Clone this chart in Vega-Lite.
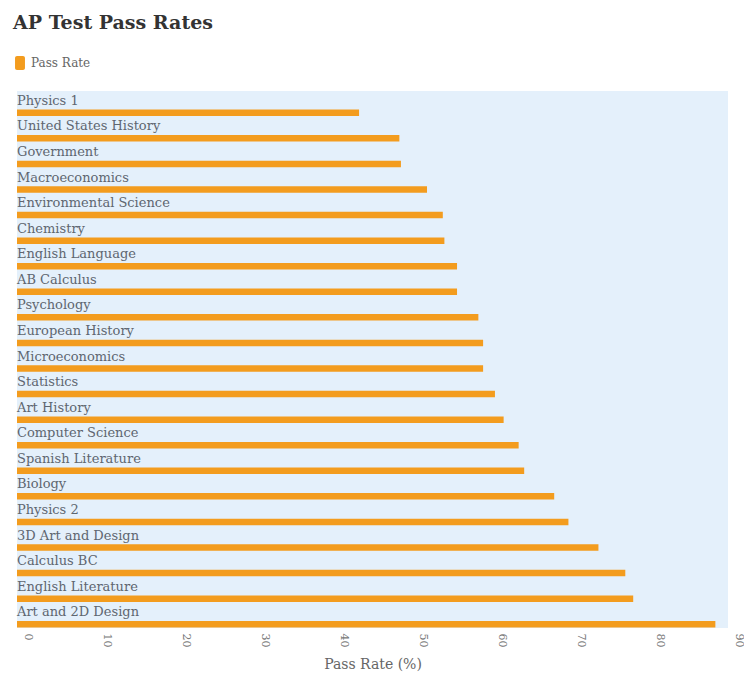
{
  "$schema": "https://vega.github.io/schema/vega-lite/v6.json",
  "autosize": "none",
  "width": 711,
  "height": 537,
  "padding": {"left": 17, "top": 91, "right": 16, "bottom": 52},
  "background": "white",
  "title": {
    "text": "AP Test Pass Rates",
    "anchor": "start",
    "frame": "group",
    "font": "DejaVu Serif",
    "fontSize": 19,
    "fontWeight": "bold",
    "color": "#333333",
    "dx": -4,
    "offset": 22
  },
  "data": {
    "values": [
      {"subject": "Physics 1", "rate": 43.3},
      {"subject": "United States History", "rate": 48.4},
      {"subject": "Government", "rate": 48.6},
      {"subject": "Macroeconomics", "rate": 51.9},
      {"subject": "Environmental Science", "rate": 53.9},
      {"subject": "Chemistry", "rate": 54.1},
      {"subject": "English Language", "rate": 55.7},
      {"subject": "AB Calculus", "rate": 55.7},
      {"subject": "Psychology", "rate": 58.4},
      {"subject": "European History", "rate": 59.0},
      {"subject": "Microeconomics", "rate": 59.0},
      {"subject": "Statistics", "rate": 60.5},
      {"subject": "Art History", "rate": 61.6},
      {"subject": "Computer Science", "rate": 63.5},
      {"subject": "Spanish Literature", "rate": 64.2},
      {"subject": "Biology", "rate": 68.0},
      {"subject": "Physics 2", "rate": 69.8},
      {"subject": "3D Art and Design", "rate": 73.6},
      {"subject": "Calculus BC", "rate": 77.0},
      {"subject": "English Literature", "rate": 78.0},
      {"subject": "Art and 2D Design", "rate": 88.4}
    ]
  },
  "encoding": {
    "y": {
      "field": "subject",
      "type": "nominal",
      "sort": null,
      "scale": {"paddingInner": 0, "paddingOuter": 0},
      "axis": null
    }
  },
  "layer": [
    {
      "mark": {"type": "bar", "height": 6.5, "yOffset": 9},
      "encoding": {
        "x": {
          "field": "rate",
          "type": "quantitative",
          "scale": {"domain": [0, 90], "nice": false},
          "axis": {
            "title": "Pass Rate (%)",
            "values": [0, 10, 20, 30, 40, 50, 60, 70, 80, 90],
            "labelAngle": 90,
            "labelOffset": 10,
            "labelPadding": 5,
            "labelFont": "DejaVu Serif",
            "labelFontSize": 11,
            "labelColor": "#777777",
            "titleFont": "DejaVu Serif",
            "titleFontSize": 14,
            "titleFontWeight": "normal",
            "titleColor": "#666666",
            "titlePadding": 11,
            "domain": false,
            "ticks": false,
            "grid": false
          }
        },
        "color": {
          "datum": "Pass Rate",
          "type": "nominal",
          "scale": {"range": ["#f39c1e"]},
          "legend": {
            "title": null,
            "orient": "none",
            "legendX": -5,
            "legendY": -36,
            "symbolType": "M-0.43,-1H0.43A0.28,0.28 0 0 1 0.71,-0.72V0.72A0.28,0.28 0 0 1 0.43,1H-0.43A0.28,0.28 0 0 1 -0.71,0.72V-0.72A0.28,0.28 0 0 1 -0.43,-1Z",
            "symbolSize": 196,
            "symbolOpacity": 1,
            "labelFont": "DejaVu Serif",
            "labelFontSize": 12,
            "labelColor": "#666666",
            "labelOffset": 3
          }
        }
      }
    },
    {
      "mark": {
        "type": "text",
        "align": "left",
        "baseline": "alphabetic",
        "dy": 1,
        "font": "DejaVu Serif",
        "fontSize": 13,
        "color": "#5e6670"
      },
      "encoding": {
        "x": {"datum": 0, "type": "quantitative"},
        "text": {"field": "subject"}
      }
    }
  ],
  "config": {
    "view": {"fill": "#e4f0fb", "stroke": null}
  }
}
